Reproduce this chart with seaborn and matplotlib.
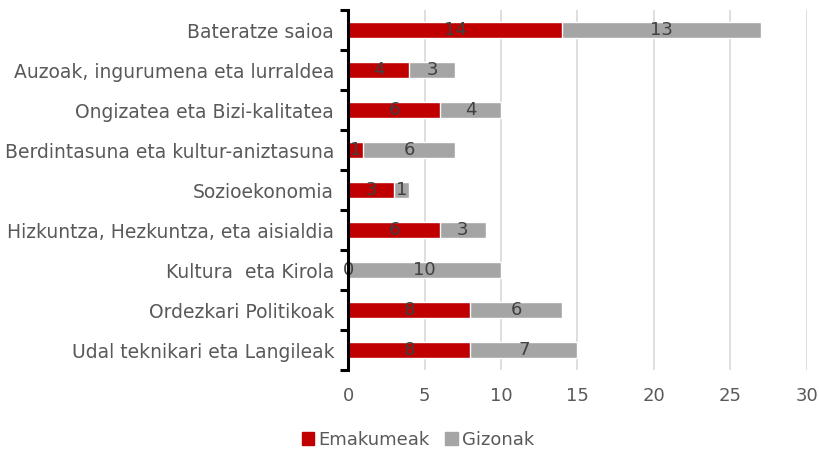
import numpy as np
import pandas as pd
import matplotlib
matplotlib.use('Agg')
import matplotlib.pyplot as plt
import matplotlib.patches as mpatches
import seaborn as sns

# ── Data ────────────────────────────────────────────────────────────────────
CATEGORIES = [
    'Bateratze saioa',
    'Auzoak, ingurumena eta lurraldea',
    'Ongizatea eta Bizi-kalitatea',
    'Berdintasuna eta kultur-aniztasuna',
    'Sozioekonomia',
    'Hizkuntza, Hezkuntza, eta aisialdia',
    'Kultura  eta Kirola',
    'Ordezkari Politikoak',
    'Udal teknikari eta Langileak',
]
EMAKUMEAK = [14, 4, 6, 1, 3, 6, 0, 8, 8]
GIZONAK = [13, 3, 4, 6, 1, 3, 10, 6, 7]
X_TICKS = [0, 5, 10, 15, 20, 25, 30]

RED = '#C00000'
GREY = '#A5A5A5'
TEXT = '#595959'
LABEL = '#404040'

df = pd.DataFrame({'cat': CATEGORIES, 'Emakumeak': EMAKUMEAK, 'Gizonak': GIZONAK})
df['total'] = df['Emakumeak'] + df['Gizonak']

sns.set_style('white')
plt.rcParams['font.family'] = ['DejaVu Sans']

fig = plt.figure(figsize=(8.19, 4.58), dpi=100)
ax = fig.add_axes([0.425, 0.192, 0.56, 0.786])

# grey = total (drawn first), red = women on top
sns.barplot(data=df, y='cat', x='total', color=GREY, orient='h', width=0.4,
            saturation=1, ax=ax, zorder=2)
sns.barplot(data=df, y='cat', x='Emakumeak', color=RED, orient='h', width=0.4,
            saturation=1, ax=ax, zorder=3)

# value labels
for i, (w, m) in enumerate(zip(EMAKUMEAK, GIZONAK)):
    ax.text(w / 2, i, str(w), ha='center', va='center', fontsize=13, color=LABEL, zorder=4)
    ax.text(w + m / 2, i, str(m), ha='center', va='center', fontsize=13, color=LABEL, zorder=4)

ax.set_xlim(0, 30)
ax.set_ylim(len(CATEGORIES) - 0.5, -0.5)
ax.set_xticks(X_TICKS)
ax.set_xlabel('')
ax.set_ylabel('')
ax.grid(axis='x', color='#D9D9D9', linewidth=1.2, zorder=0)
ax.set_axisbelow(True)

for s in ['top', 'right', 'bottom']:
    ax.spines[s].set_visible(False)
ax.spines['left'].set_linewidth(2.2)
ax.spines['left'].set_color('black')
ax.spines['left'].set_zorder(5)

ax.tick_params(axis='y', which='major', left=False, length=0, pad=10,
               labelsize=13.5, labelcolor=TEXT)
ax.set_yticks(np.arange(-0.5, len(CATEGORIES), 1), minor=True)
ax.tick_params(axis='y', which='minor', left=True, length=6, width=2.2,
               color='black', direction='out')
ax.tick_params(axis='x', length=0, pad=12, labelsize=13, labelcolor=TEXT)

handles = [mpatches.Patch(color=RED, label='Emakumeak'),
           mpatches.Patch(color=GREY, label='Gizonak')]
fig.legend(handles=handles, loc='lower center', bbox_to_anchor=(0.51, -0.015), ncol=2,
           frameon=False, fontsize=13, labelcolor=TEXT, handlelength=0.7, handleheight=0.7,
           handletextpad=0.2, columnspacing=0.9)

fig.savefig('out.png', dpi=100)
